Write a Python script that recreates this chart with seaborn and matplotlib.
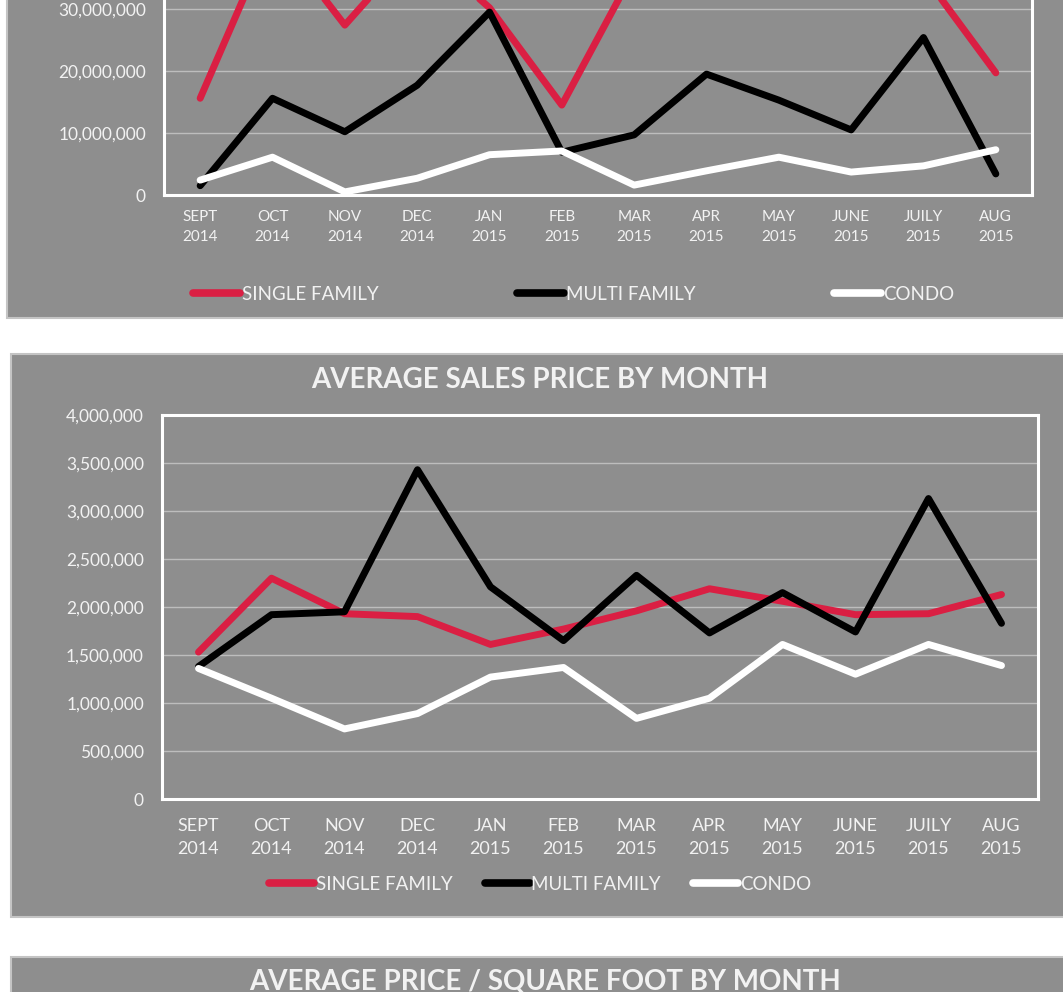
import pandas as pd
import numpy as np
import matplotlib.pyplot as plt
import seaborn as sns
from matplotlib.patches import Rectangle
from matplotlib.ticker import FuncFormatter

months = ['SEPT', 'OCT', 'NOV', 'DEC', 'JAN', 'FEB', 'MAR', 'APR', 'MAY', 'JUNE', 'JUILY', 'AUG']
years = ['2014', '2014', '2014', '2014', '2015', '2015', '2015', '2015', '2015', '2015', '2015', '2015']
series = ['SINGLE FAMILY', 'MULTI FAMILY', 'CONDO']
colors = ['#DA1F43', '#000000', '#FFFFFF']

# top chart (total sales volume, top part is cropped off)
vol_single = [15.6e6, 42.5e6, 27.4e6, 40.5e6, 30.2e6, 14.5e6, 36.2e6, 38.0e6, 37.0e6, 36.0e6, 35.5e6, 19.7e6]
vol_multi = [1.5e6, 15.6e6, 10.2e6, 17.7e6, 29.5e6, 6.9e6, 9.7e6, 19.5e6, 15.3e6, 10.5e6, 25.4e6, 3.4e6]
vol_condo = [2.4e6, 6.1e6, 0.5e6, 2.7e6, 6.5e6, 7.1e6, 1.6e6, 3.9e6, 6.1e6, 3.7e6, 4.7e6, 7.3e6]
vol_ticks = [0, 10e6, 20e6, 30e6]

# middle chart (average sales price)
avg_single = [1530000, 2300000, 1930000, 1900000, 1610000, 1770000, 1960000, 2190000, 2060000, 1920000, 1930000, 2130000]
avg_multi = [1380000, 1920000, 1950000, 3430000, 2210000, 1650000, 2330000, 1730000, 2150000, 1740000, 3130000, 1830000]
avg_condo = [1360000, 1050000, 730000, 890000, 1270000, 1370000, 840000, 1050000, 1610000, 1300000, 1610000, 1390000]
avg_ticks = [0, 500000, 1000000, 1500000, 2000000, 2500000, 3000000, 3500000, 4000000]

title_avg = 'AVERAGE SALES PRICE BY MONTH'
title_ppsf = 'AVERAGE PRICE / SQUARE FOOT BY MONTH'

labels = [m + '\n' + y for m, y in zip(months, years)]

def long_df(a, b, c):
    rows = []
    for name, vals in zip(series, [a, b, c]):
        for i, v in enumerate(vals):
            rows.append({'month': labels[i], 'type': name, 'value': v})
    return pd.DataFrame(rows)

sns.set_style('white')
plt.rcParams['font.family'] = ['Lato', 'DejaVu Sans']

W, H = 1063, 992
fig = plt.figure(figsize=(W / 100, H / 100), dpi=100)
fig.patch.set_facecolor('white')

PANEL = '#8E8E8E'
TXT = '#F2F2F2'

def panel(x0, y0, x1, y1):
    fig.patches.append(Rectangle((x0 / W, 1 - y1 / H), (x1 - x0) / W, (y1 - y0) / H,
                                 transform=fig.transFigure, facecolor=PANEL,
                                 edgecolor='#C4C4C4', linewidth=1.5, zorder=-10))

panel(7, -20, 1075, 318)
panel(11, 354, 1075, 917)
panel(11, 957, 1075, 1010)

def make_axes(left, right, top, bottom):
    return fig.add_axes([left / W, 1 - bottom / H, (right - left) / W, (bottom - top) / H])

fmt = FuncFormatter(lambda v, p: f'{int(v):,}')

def style(ax, ymax, ticks, ysize, xsize, linespacing, ypad, xpad):
    ax.set_facecolor(PANEL)
    ax.set_xlim(-0.5, 11.5)
    ax.set_ylim(0, ymax)
    ax.set_yticks(ticks)
    ax.yaxis.set_major_formatter(fmt)
    ax.set_xticks(range(12))
    ax.set_xticklabels(labels, linespacing=linespacing)
    ax.grid(axis='y', color='#BDBDBD', linewidth=1)
    ax.set_axisbelow(True)
    for s in ax.spines.values():
        s.set_color('white')
        s.set_linewidth(2.2)
    ax.tick_params(axis='y', length=0, pad=ypad, labelsize=ysize, labelcolor=TXT)
    ax.tick_params(axis='x', length=0, pad=xpad, labelsize=xsize, labelcolor=TXT)
    ax.set_xlabel('')
    ax.set_ylabel('')

# top chart
ax1 = make_axes(164, 1032, -115, 195)
sns.lineplot(data=long_df(vol_single, vol_multi, vol_condo), x='month', y='value', hue='type',
             hue_order=series, palette=colors, linewidth=5, sort=False, legend=False, ax=ax1)
style(ax1, 50e6, vol_ticks, 12.5, 11, 1.5, 13, 11)

# middle chart
ax2 = make_axes(162, 1038, 415, 799)
sns.lineplot(data=long_df(avg_single, avg_multi, avg_condo), x='month', y='value', hue='type',
             hue_order=series, palette=colors, linewidth=5, sort=False, legend=False, ax=ax2)
style(ax2, 4e6, avg_ticks, 12.5, 13, 1.5, 13, 14)

fig.text(540 / W, 1 - 380 / H, title_avg, ha='center', va='center', fontsize=20,
         fontweight='bold', color=TXT)
fig.text(545 / W, 1 - 982 / H, title_ppsf, ha='center', va='center', fontsize=20,
         fontweight='bold', color=TXT)

# legends
handles = [plt.Line2D([], [], color=c, linewidth=5.5, solid_capstyle='round') for c in colors]
leg1 = fig.legend(handles, series, loc='center left', bbox_to_anchor=(193 / W, 1 - 294 / H),
                  ncol=3, frameon=False, fontsize=13.5, handlelength=2.5, handletextpad=0.1,
                  columnspacing=7.4, borderpad=0, borderaxespad=0)
leg2 = fig.legend(handles, series, loc='center left', bbox_to_anchor=(269 / W, 1 - 884 / H),
                  ncol=3, frameon=False, fontsize=13.5, handlelength=2.4, handletextpad=0.1,
                  columnspacing=1.7, borderpad=0, borderaxespad=0)
for leg in (leg1, leg2):
    for t in leg.get_texts():
        t.set_color(TXT)

fig.savefig('out.png', dpi=100, facecolor='white')
